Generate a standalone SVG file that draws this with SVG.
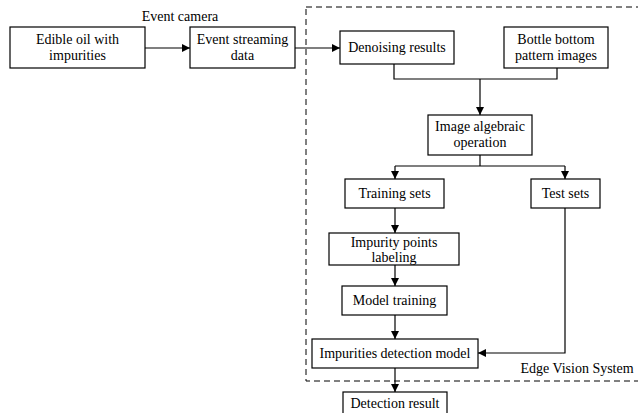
<svg xmlns="http://www.w3.org/2000/svg" width="638" height="413" viewBox="0 0 638 413">
<style>
.b{fill:#fff;stroke:#000;stroke-width:1.2}
.t{font-family:"Liberation Serif","Times New Roman",serif;font-size:14px;fill:#000;text-anchor:middle}
.c{fill:none;stroke:#000;stroke-width:1.2}
</style>
<defs>
<marker id="a" viewBox="0 0 10 10" refX="10" refY="5" markerWidth="8" markerHeight="8" markerUnits="userSpaceOnUse" orient="auto">
<path d="M0,0 L10,5 L0,10 Z" fill="#000"/>
</marker>
</defs>
<g id="boundary">
<rect x="306" y="7" width="340" height="374" fill="none" stroke="#000" stroke-width="1" stroke-dasharray="6,4"/>
<text class="t" x="577" y="373">Edge Vision System</text>
</g>
<text class="t" x="180" y="21">Event camera</text>
<g id="connectors">
<line class="c" x1="145" y1="48" x2="190" y2="48" marker-end="url(#a)"/>
<line class="c" x1="295" y1="48" x2="340" y2="48" marker-end="url(#a)"/>
<polyline class="c" points="394,64 394,79 557,79 557,68"/>
<line class="c" x1="480" y1="79" x2="480" y2="115" marker-end="url(#a)"/>
<line class="c" x1="480" y1="155" x2="480" y2="166"/>
<polyline class="c" points="395,166 565,166"/>
<line class="c" x1="395" y1="166" x2="395" y2="179" marker-end="url(#a)"/>
<line class="c" x1="565" y1="166" x2="565" y2="179" marker-end="url(#a)"/>
<line class="c" x1="395" y1="208" x2="395" y2="233" marker-end="url(#a)"/>
<line class="c" x1="395" y1="265" x2="395" y2="286" marker-end="url(#a)"/>
<line class="c" x1="395" y1="315" x2="395" y2="339" marker-end="url(#a)"/>
<polyline class="c" points="565,208 565,353 478,353" marker-end="url(#a)"/>
<line class="c" x1="395" y1="368" x2="395" y2="392" marker-end="url(#a)"/>
</g>
<g id="n1"><rect class="b" x="10" y="27" width="135" height="41"/><text class="t" x="77.5" y="44">Edible oil with</text><text class="t" x="77.5" y="60">impurities</text></g>
<g id="n2"><rect class="b" x="190" y="27" width="105" height="41"/><text class="t" x="242.5" y="44">Event streaming</text><text class="t" x="242.5" y="60">data</text></g>
<g id="n3"><rect class="b" x="340" y="31" width="114" height="33"/><text class="t" x="397" y="52">Denoising results</text></g>
<g id="n4"><rect class="b" x="504" y="27" width="104" height="41"/><text class="t" x="556" y="44">Bottle bottom</text><text class="t" x="556" y="60">pattern images</text></g>
<g id="n5"><rect class="b" x="428" y="115" width="104" height="40"/><text class="t" x="480" y="131">Image algebraic</text><text class="t" x="480" y="147">operation</text></g>
<g id="n6"><rect class="b" x="345" y="179" width="99" height="29"/><text class="t" x="394.5" y="198">Training sets</text></g>
<g id="n7"><rect class="b" x="531" y="179" width="69" height="29"/><text class="t" x="565.5" y="198">Test sets</text></g>
<g id="n8"><rect class="b" x="329" y="233" width="130" height="32"/><text class="t" x="394" y="247">Impurity points</text><text class="t" x="394" y="262">labeling</text></g>
<g id="n9"><rect class="b" x="342" y="286" width="105" height="29"/><text class="t" x="394.5" y="305">Model training</text></g>
<g id="n10"><rect class="b" x="312" y="339" width="166" height="29"/><text class="t" x="395" y="358">Impurities detection model</text></g>
<g id="n11"><rect class="b" x="343" y="392" width="104" height="25"/><text class="t" x="395" y="408">Detection result</text></g>
</svg>
